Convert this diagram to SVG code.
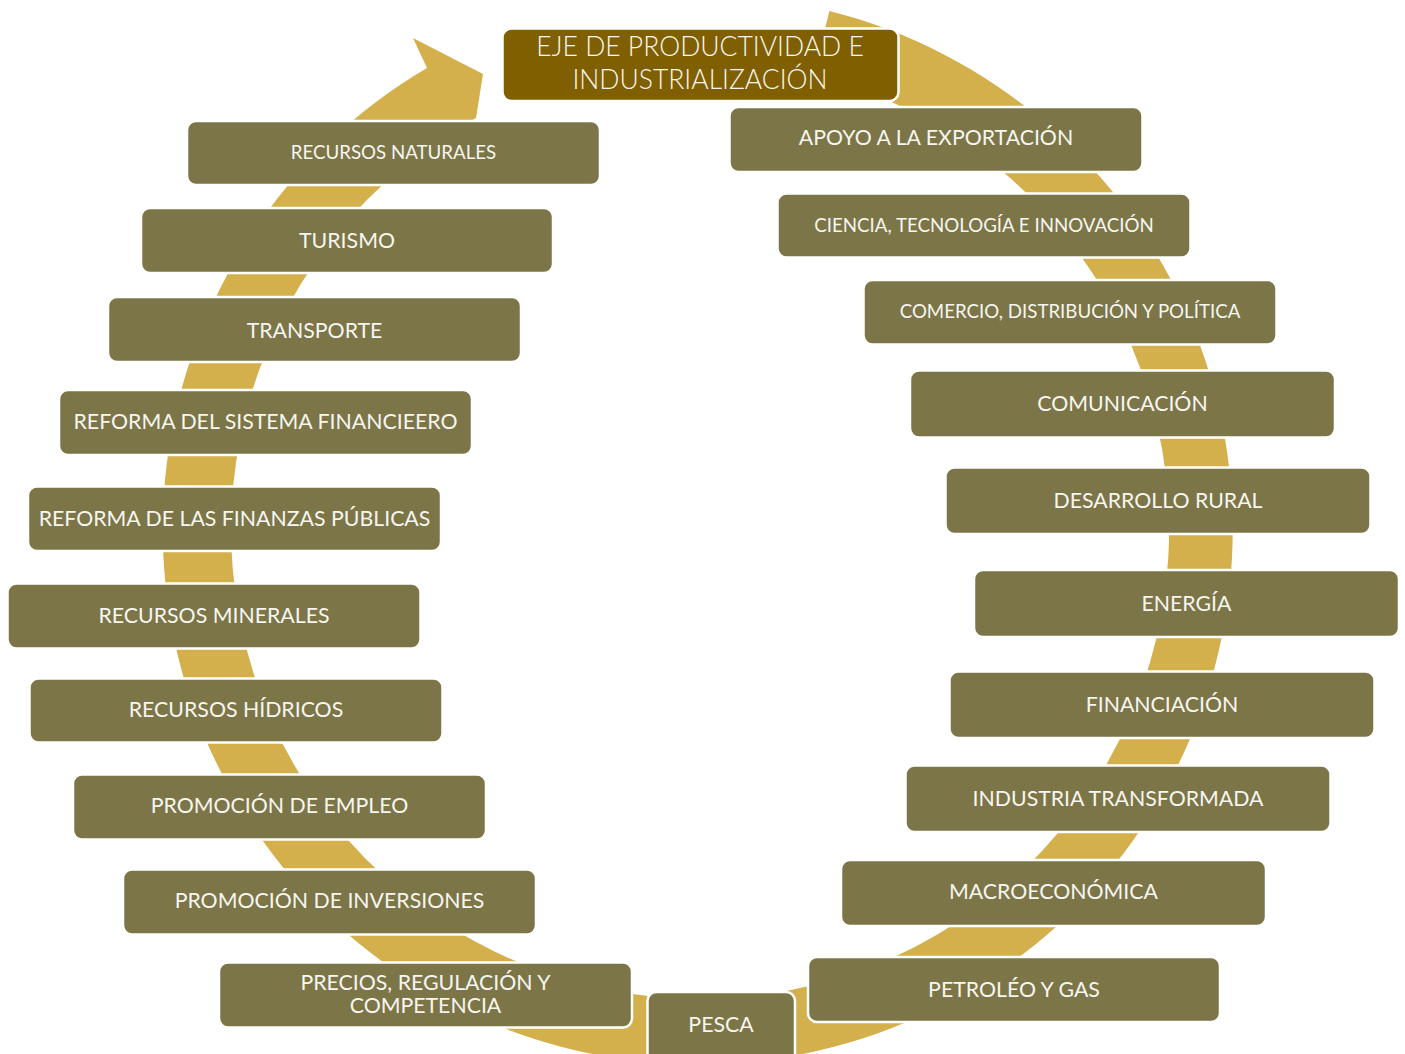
<svg xmlns="http://www.w3.org/2000/svg" width="1405" height="1054" viewBox="0 0 1405 1054">
<style>
.box{fill:#7B7547;stroke:#FFFFFF;stroke-width:2.5}
.top{fill:#7F5F00;stroke:#FFFFFF;stroke-width:2.5}
.t{font-family:Lato,"Liberation Sans",sans-serif;font-size:21.3px;fill:#F7F6F0;text-anchor:middle}
.s{font-size:18.7px}
.tt{font-size:26.5px;font-weight:300}
.ring{fill:#D3B04C}
</style>
<rect width="1405" height="1054" fill="#FFFFFF"/>
<g id="connectors">
<path class="ring" d="M 829.4,10.9 A 535 535 0 1 1 427,68 L 413,38 L 483,74 L 476,118 A 469 469 0 1 0 813.5,74.9 Z"/>
</g>
<g id="node-top"><rect class="top" x="502.5" y="28.5" width="396" height="72.5" rx="9"/><text class="t tt" x="700" y="56">EJE DE PRODUCTIVIDAD E</text><text class="t tt" x="700" y="89.3">INDUSTRIALIZACIÓN</text></g>
<g id="node-l1"><rect class="box" x="187" y="121" width="413" height="64" rx="9"/><text class="t s" x="393.5" y="159.3">RECURSOS NATURALES</text></g>
<g id="node-l2"><rect class="box" x="141" y="208" width="412" height="65" rx="9"/><text class="t" x="347" y="247.7">TURISMO</text></g>
<g id="node-l3"><rect class="box" x="108" y="297" width="413" height="65" rx="9"/><text class="t" x="314.5" y="337.7">TRANSPORTE</text></g>
<g id="node-l4"><rect class="box" x="59" y="390" width="413" height="65" rx="9"/><text class="t" x="265.5" y="429.3">REFORMA DEL SISTEMA FINANCIEERO</text></g>
<g id="node-l5"><rect class="box" x="28" y="486.5" width="413" height="64.5" rx="9"/><text class="t" x="234.5" y="525.7">REFORMA DE LAS FINANZAS PÚBLICAS</text></g>
<g id="node-l6"><rect class="box" x="7.5" y="583.5" width="413" height="65" rx="9"/><text class="t" x="214" y="622.7">RECURSOS MINERALES</text></g>
<g id="node-l7"><rect class="box" x="29.5" y="678.5" width="413" height="64" rx="9"/><text class="t" x="236" y="717.3">RECURSOS HÍDRICOS</text></g>
<g id="node-l8"><rect class="box" x="73" y="774.5" width="413" height="65" rx="9"/><text class="t" x="279.5" y="813.3">PROMOCIÓN DE EMPLEO</text></g>
<g id="node-l9"><rect class="box" x="123" y="869.5" width="413" height="65" rx="9"/><text class="t" x="329.5" y="908">PROMOCIÓN DE INVERSIONES</text></g>
<g id="node-l10"><rect class="box" x="219" y="962.5" width="413" height="65" rx="9"/><text class="t" x="425.5" y="989.5">PRECIOS, REGULACIÓN Y</text><text class="t" x="425.5" y="1013.3">COMPETENCIA</text></g>
<g id="node-pesca"><rect class="box" x="647.5" y="992" width="147.5" height="80" rx="9"/><text class="t" x="721" y="1031.7">PESCA</text></g>
<g id="node-r1"><rect class="box" x="729.5" y="107" width="413" height="65" rx="9"/><text class="t" x="936" y="145">APOYO A LA EXPORTACIÓN</text></g>
<g id="node-r2"><rect class="box" x="777.5" y="193.5" width="413" height="64" rx="9"/><text class="t s" x="984" y="232.3">CIENCIA, TECNOLOGÍA E INNOVACIÓN</text></g>
<g id="node-r3"><rect class="box" x="863.5" y="280" width="413" height="64.5" rx="9"/><text class="t s" x="1070" y="318.3">COMERCIO, DISTRIBUCIÓN Y POLÍTICA</text></g>
<g id="node-r4"><rect class="box" x="910" y="370.5" width="425" height="67" rx="9"/><text class="t" x="1122.5" y="411">COMUNICACIÓN</text></g>
<g id="node-r5"><rect class="box" x="945.5" y="467.5" width="425" height="66.5" rx="9"/><text class="t" x="1158" y="507.7">DESARROLLO RURAL</text></g>
<g id="node-r6"><rect class="box" x="974" y="570" width="425" height="67" rx="9"/><text class="t" x="1186.5" y="611">ENERGÍA</text></g>
<g id="node-r7"><rect class="box" x="949.5" y="671.5" width="425" height="66.5" rx="9"/><text class="t" x="1162" y="711.7">FINANCIACIÓN</text></g>
<g id="node-r8"><rect class="box" x="905.5" y="765.5" width="425" height="66.5" rx="9"/><text class="t" x="1118" y="805.7">INDUSTRIA TRANSFORMADA</text></g>
<g id="node-r9"><rect class="box" x="841" y="860" width="425" height="66" rx="9"/><text class="t" x="1053.5" y="899.3">MACROECONÓMICA</text></g>
<g id="node-r10"><rect class="box" x="808" y="957" width="412" height="65" rx="9"/><text class="t" x="1014" y="996.7">PETROLÉO Y GAS</text></g>
</svg>
